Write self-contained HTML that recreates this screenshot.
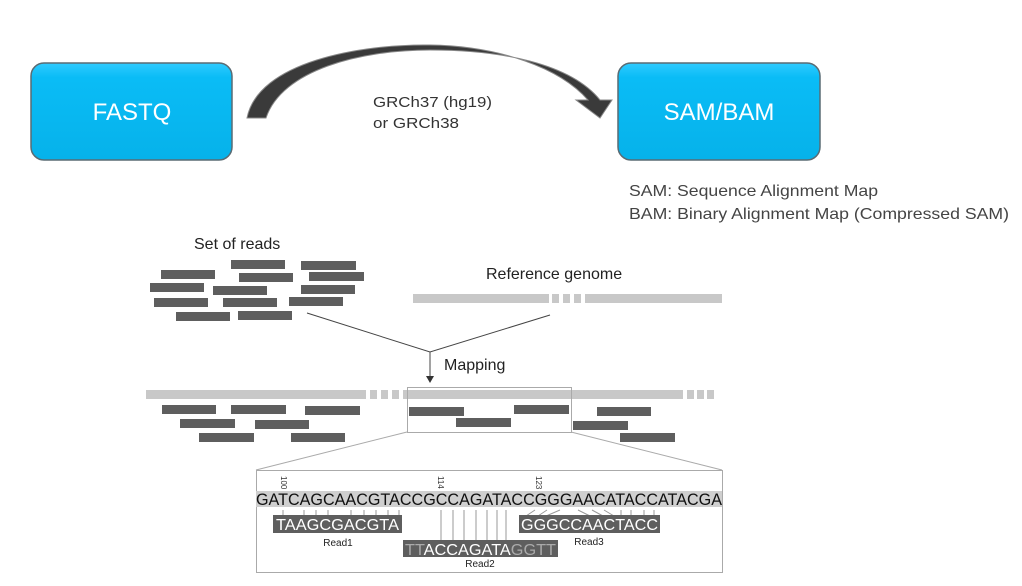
<!DOCTYPE html>
<html><head><meta charset="utf-8"><style>
html,body{margin:0;padding:0;background:#fff;width:1022px;height:586px;overflow:hidden}
svg{display:block}
</style></head><body>
<svg width="1022" height="586" viewBox="0 0 1022 586" xmlns="http://www.w3.org/2000/svg" font-family="Liberation Sans, DejaVu Sans, sans-serif">
<defs>
<linearGradient id="bg" x1="0" y1="0" x2="0" y2="1"><stop offset="0" stop-color="#2fcbff"/><stop offset="0.15" stop-color="#0abcf6"/><stop offset="1" stop-color="#06b2ea"/></linearGradient>
</defs>
<rect x="31" y="63" width="201" height="97" rx="13" fill="url(#bg)" stroke="#5a6b73" stroke-width="1.5"/>
<text x="132" y="120" text-anchor="middle" font-size="24" fill="#fff">FASTQ</text>
<rect x="618" y="63" width="202" height="97" rx="13" fill="url(#bg)" stroke="#5a6b73" stroke-width="1.5"/>
<text x="719" y="120" text-anchor="middle" font-size="24" fill="#fff">SAM/BAM</text>
<path d="M247,118 C258,62 360,44 430,45 C500,46 560,68 588,100 L576,100 L600,118 L612,100 L600,100 C570,63 500,50 430,50 C360,50 282,70 266,118 Z" fill="#3a3a3a" stroke="#888" stroke-width="1"/>
<text x="373" y="107" font-size="15" fill="#333" textLength="119" lengthAdjust="spacingAndGlyphs">GRCh37 (hg19)</text>
<text x="373" y="128" font-size="15" fill="#333" textLength="86" lengthAdjust="spacingAndGlyphs">or GRCh38</text>
<text x="629" y="196" font-size="16" fill="#444" textLength="249" lengthAdjust="spacingAndGlyphs">SAM: Sequence Alignment Map</text>
<text x="629" y="219" font-size="16" fill="#444" textLength="380" lengthAdjust="spacingAndGlyphs">BAM: Binary Alignment Map (Compressed SAM)</text>
<text x="194" y="249" font-size="16" fill="#222">Set of reads</text>
<text x="486" y="279" font-size="16" fill="#222">Reference genome</text>
<g fill="#5e5e5e">
<rect x="231" y="260" width="54" height="9"/><rect x="301" y="261" width="55" height="9"/>
<rect x="161" y="270" width="54" height="9"/><rect x="239" y="273" width="54" height="9"/><rect x="309" y="272" width="55" height="9"/>
<rect x="150" y="283" width="54" height="9"/><rect x="213" y="286" width="54" height="9"/><rect x="301" y="285" width="54" height="9"/>
<rect x="154" y="298" width="54" height="9"/><rect x="223" y="298" width="54" height="9"/><rect x="289" y="297" width="54" height="9"/>
<rect x="176" y="312" width="54" height="9"/><rect x="238" y="311" width="54" height="9"/>
</g>
<g fill="#c8c8c8">
<rect x="413" y="294" width="136" height="9"/><rect x="552" y="294" width="7" height="9"/><rect x="563" y="294" width="7" height="9"/><rect x="574" y="294" width="7" height="9"/><rect x="585" y="294" width="137" height="9"/>
<rect x="146" y="390" width="220" height="9"/><rect x="370" y="390" width="7" height="9"/><rect x="381" y="390" width="7" height="9"/><rect x="392" y="390" width="7" height="9"/><rect x="403" y="390" width="280" height="9"/><rect x="687" y="390" width="7" height="9"/><rect x="697" y="390" width="7" height="9"/><rect x="707" y="390" width="7" height="9"/>
</g>
<g stroke="#444" stroke-width="1" fill="none">
<path d="M307,313 L430,352 L550,315"/><path d="M430,352 V378"/>
</g>
<path d="M426,376 L430,383 L434,376 Z" fill="#333"/>
<text x="444" y="370" font-size="16" fill="#222">Mapping</text>
<g fill="#5e5e5e">
<rect x="162" y="405" width="54" height="9"/><rect x="231" y="405" width="55" height="9"/><rect x="305" y="406" width="55" height="9"/>
<rect x="180" y="419" width="55" height="9"/><rect x="255" y="420" width="54" height="9"/>
<rect x="199" y="433" width="55" height="9"/><rect x="291" y="433" width="54" height="9"/>
<rect x="409" y="407" width="55" height="9"/><rect x="456" y="418" width="55" height="9"/><rect x="514" y="405" width="55" height="9"/>
<rect x="597" y="407" width="54" height="9"/><rect x="573" y="421" width="55" height="9"/><rect x="620" y="433" width="55" height="9"/>
</g>
<g stroke="#aaa" stroke-width="1" fill="none">
<rect x="407.5" y="387.5" width="164" height="45"/>
<path d="M407,432 L256,470 M571,432 L722,470"/>
<rect x="256.5" y="470.5" width="466" height="102"/>
</g>
<rect x="256" y="491" width="466" height="16" fill="#cfcfcf"/>
<text x="256" y="505" font-size="17" fill="#111" textLength="466" lengthAdjust="spacingAndGlyphs">GATCAGCAACGTACCGCCAGATACCGGGAACATACCATACGA</text>
<g font-size="8" fill="#333">
<text transform="translate(281,476) rotate(90)">100</text>
<text transform="translate(438,476) rotate(90)">114</text>
<text transform="translate(536,476) rotate(90)">123</text>
</g>
<g stroke="#999" stroke-width="1">
<path d="M283,510V516 M304,510V516 M316,510V516 M328,510V516 M351,510V516 M364,510V516 M376,510V516 M388,510V516 M399,510V516"/>
<path d="M441,510V540 M453,510V540 M464,510V540 M476,510V540 M487,510V540 M497,510V540 M506,510V540"/>
<path d="M535,510 L526,516 M547,510 L538,516 M560,510 L546,516 M578,510 L590,516 M592,510 L603,516 M604,510 L614,516 M621,510V516 M631,510V516 M644,510V516 M654,510V516"/>
</g>
<rect x="273" y="515" width="129" height="18" fill="#5e5e5e"/>
<text x="276" y="530" font-size="16" fill="#fff" textLength="123" lengthAdjust="spacingAndGlyphs">TAAGCGACGTA</text>
<rect x="519" y="515" width="141" height="18" fill="#5e5e5e"/>
<text x="521" y="530" font-size="16" fill="#fff" textLength="137" lengthAdjust="spacingAndGlyphs">GGGCCAACTACC</text>
<rect x="403" y="540" width="155" height="17" fill="#5e5e5e"/>
<text x="405" y="555" font-size="16" fill="#fff" textLength="151" lengthAdjust="spacingAndGlyphs"><tspan fill="#aaa">TT</tspan>ACCAGATA<tspan fill="#aaa">GGTT</tspan></text>
<g font-size="10" fill="#222" text-anchor="middle">
<text x="338" y="546">Read1</text>
<text x="589" y="545">Read3</text>
<text x="480" y="567">Read2</text>
</g>
</svg>
</body></html>
